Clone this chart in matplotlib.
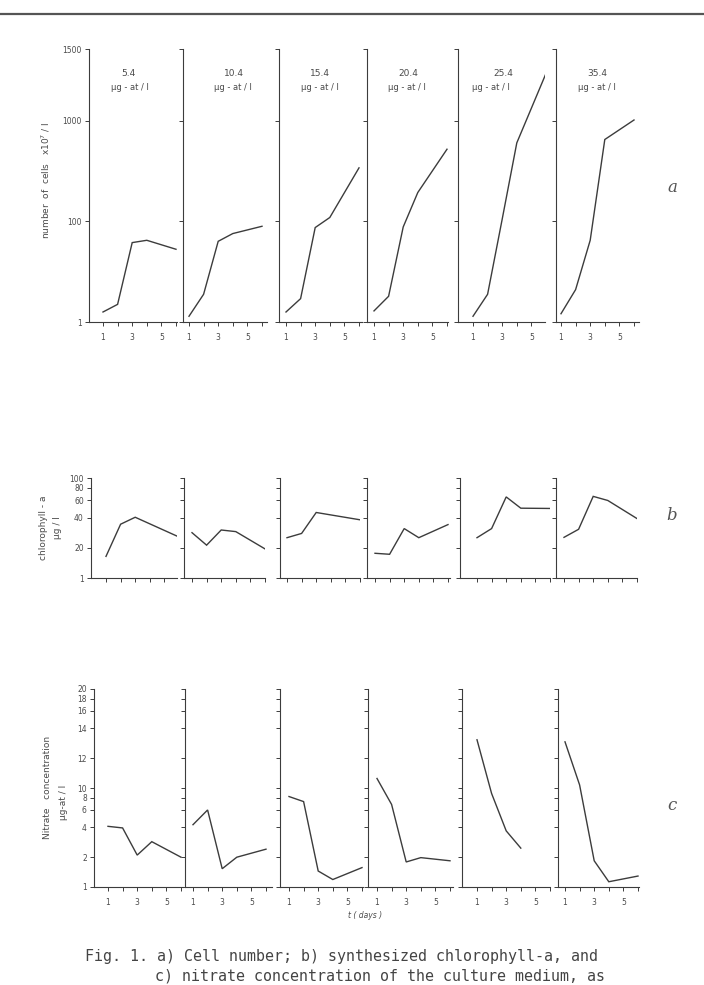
import numpy as np
import matplotlib
matplotlib.use("Agg")
import matplotlib.pyplot as plt
from matplotlib.ticker import FixedLocator, FixedFormatter, NullLocator

W, H = 704, 985

# ---------------- data ----------------
concentrations = ["5.4", "10.4", "15.4", "20.4", "25.4", "35.4"]
unit_label = "μg - at / l"

# a) number of cells x10^7 / l
cell_days = [[1, 2, 3, 4, 6], [1, 2, 3, 4, 6], [1, 2, 3, 4, 6],
             [1, 2, 3, 4, 6], [1, 2, 3, 4, 6], [1, 2, 3, 4, 6]]
cell_vals = [[1.58, 2.24, 37.7, 41.9, 27.8],
             [1.30, 3.55, 40.0, 57.0, 79.5],
             [1.58, 2.91, 75.0, 109.0, 339.0],
             [1.66, 3.24, 77.0, 193.0, 519.0],
             [1.30, 3.55, 105.0, 600.0, 1306.0],
             [1.46, 4.39, 41.9, 648.0, 1003.0]]

# b) chlorophyll-a  ug/l
chl_days = [[1, 2, 3, 6], [1, 2, 3, 4, 6], [1, 2, 3, 6],
            [1, 2, 3, 4, 6], [1, 2, 3, 4, 6], [1, 2, 3, 4, 6]]
chl_vals = [[8.6, 34.5, 40.5, 25.7],
            [28.4, 21.3, 30.2, 29.1, 18.1],
            [25.3, 27.9, 45.2, 38.2],
            [11.7, 10.6, 31.2, 25.3, 34.2],
            [25.3, 31.2, 64.7, 49.9, 49.6],
            [25.5, 30.7, 65.5, 59.6, 39.3]]

# c) nitrate concentration  ug-at/l
nit_days = [[1, 2, 3, 4, 6], [1, 2, 3, 4, 6], [1, 2, 3, 4, 6],
            [1, 2, 3, 4, 6], [1, 2, 3, 4], [1, 2, 3, 4, 6]]
nit_vals = [[4.1, 3.95, 2.1, 2.87, 2.0],
            [4.26, 6.0, 1.53, 2.0, 2.41],
            [8.2, 7.29, 1.45, 1.19, 1.57],
            [10.6, 6.82, 1.79, 1.98, 1.84],
            [13.2, 8.8, 3.69, 2.47],
            [13.06, 10.19, 1.84, 1.13, 1.29]]

# axis tick labels (the original axes are broken / non-uniform)
cell_ticks = [1, 100, 1000, 1500]
chl_ticks = [1, 20, 40, 60, 80, 100]
nit_ticks = [1, 2, 4, 6, 8, 10, 12, 14, 16, 18, 20]
x_ticks = [1, 2, 3, 4, 5, 6]
x_ticklabels = ["1", "", "3", "", "5", ""]

# ---------------- scale definitions (relative spacing of tick marks) ----
cell_scale_pos = [0.0, 1.0, 2.0, 2.71]
chl_scale_pos = list(np.log10([10, 20, 40, 60, 80, 100]))
nit_scale_pos = list(np.log10([1, 2, 4, 6, 8, 10, 20, 40, 60, 80, 100]))


def make_funcs(ticks, pos):
    lt = np.log10(np.asarray(ticks, float))
    p = np.asarray(pos, float)
    s0 = (p[1] - p[0]) / (lt[1] - lt[0])
    s1 = (p[-1] - p[-2]) / (lt[-1] - lt[-2])

    def fwd(v):
        v = np.asarray(v, float)
        lv = np.log10(np.clip(v, 1e-12, None))
        out = np.interp(lv, lt, p)
        out = np.where(lv < lt[0], p[0] + (lv - lt[0]) * s0, out)
        out = np.where(lv > lt[-1], p[-1] + (lv - lt[-1]) * s1, out)
        return out

    def inv(q):
        q = np.asarray(q, float)
        out = np.interp(q, p, lt)
        out = np.where(q < p[0], lt[0] + (q - p[0]) / s0, out)
        out = np.where(q > p[-1], lt[-1] + (q - p[-1]) / s1, out)
        return 10 ** out

    return fwd, inv


# ---------------- layout (pixels) ----------------
rows = [
    dict(days=cell_days, vals=cell_vals, ticks=cell_ticks, pos=cell_scale_pos,
         top=49, bottom=322,
         spine=[89, 183, 279, 367, 458, 556],
         day1=[103, 189, 286, 374, 473, 561],
         right=[177, 267, 362, 448, 545, 639],
         xlabels=True),
    dict(days=chl_days, vals=chl_vals, ticks=chl_ticks, pos=chl_scale_pos,
         top=478, bottom=578,
         spine=[91, 184, 280, 367, 460, 556],
         day1=[106, 192, 287, 375, 477, 564],
         right=[177, 265, 360, 450, 550, 637],
         xlabels=False),
    dict(days=nit_days, vals=nit_vals, ticks=nit_ticks, pos=nit_scale_pos,
         top=689, bottom=887,
         spine=[94, 185, 280, 368, 462, 558],
         day1=[108, 193, 289, 377, 477, 565],
         right=[183, 272, 363, 453, 550, 639],
         xlabels=True),
]
day_px = 14.6
ink = "#3c3c3c"
txt = "#4a4a4a"

fig = plt.figure(figsize=(W / 100, H / 100), dpi=100)

for r in rows:
    fwd, inv = make_funcs(r["ticks"], r["pos"])
    for i in range(6):
        l, rt = r["spine"][i], r["right"][i]
        ax = fig.add_axes([l / W, 1 - r["bottom"] / H, (rt - l) / W,
                           (r["bottom"] - r["top"]) / H])
        ax.set_yscale("function", functions=(fwd, inv))
        ax.plot(r["days"][i], r["vals"][i], color=ink, lw=1.0,
                solid_joinstyle="miter")
        x0 = 1 - (r["day1"][i] - l) / day_px
        x1 = 1 + (rt - r["day1"][i]) / day_px
        ax.set_xlim(x0, x1)
        ax.set_ylim(r["ticks"][0], r["ticks"][-1])
        ax.yaxis.set_major_locator(FixedLocator(r["ticks"]))
        ax.yaxis.set_minor_locator(NullLocator())
        ax.xaxis.set_major_locator(FixedLocator(x_ticks))
        ax.xaxis.set_minor_locator(NullLocator())
        if i == 0:
            ax.yaxis.set_major_formatter(FixedFormatter([str(t) for t in r["ticks"]]))
        else:
            ax.yaxis.set_major_formatter(FixedFormatter([""] * len(r["ticks"])))
        if r["xlabels"]:
            ax.xaxis.set_major_formatter(FixedFormatter(x_ticklabels))
        else:
            ax.xaxis.set_major_formatter(FixedFormatter([""] * 6))
        for s in ["top", "right"]:
            ax.spines[s].set_visible(False)
        for s in ["left", "bottom"]:
            ax.spines[s].set_color(ink)
            ax.spines[s].set_linewidth(0.8)
        ax.tick_params(axis="both", direction="out", length=3.2, width=0.7,
                       color=ink, labelcolor=txt, labelsize=5.5, pad=2)
        ax.tick_params(axis="x", pad=5)
        ax.patch.set_alpha(0)

# panel titles (row a)
title_x = [128, 234, 320, 408, 503, 597]
unit_x = [130, 233, 320, 407, 491, 597]
for i in range(6):
    fig.text(title_x[i] / W, 1 - 73 / H, concentrations[i], ha="center",
             va="center", fontsize=6.5, color=txt)
    fig.text(unit_x[i] / W, 1 - 87 / H, unit_label, ha="center",
             va="center", fontsize=6.0, color=txt)

# y-axis labels
fig.text(46 / W, 1 - 180 / H, "number  of  cells   x10$^{7}$ / l", rotation=90,
         ha="center", va="center", fontsize=6.5, color=txt)
fig.text(43 / W, 1 - 528 / H, "chlorophyll - a", rotation=90,
         ha="center", va="center", fontsize=6.5, color=txt)
fig.text(58 / W, 1 - 528 / H, "μg / l", rotation=90,
         ha="center", va="center", fontsize=6.5, color=txt)
fig.text(48 / W, 1 - 787 / H, "Nitrate   concentration", rotation=90,
         ha="center", va="center", fontsize=6.5, color=txt)
fig.text(63 / W, 1 - 802 / H, "μg-at / l", rotation=90,
         ha="center", va="center", fontsize=6.5, color=txt)

# row letters
for lab, y in [("a", 187), ("b", 516), ("c", 806)]:
    fig.text(672 / W, 1 - y / H, lab, ha="center", va="center", fontsize=12,
             color="#555555", family="DejaVu Serif", style="italic")

# x label
fig.text(365 / W, 1 - 916 / H, "t ( days )", ha="center", va="center",
         fontsize=5.5, color=txt, style="italic")

# top rule
fig.add_artist(plt.Line2D([0, 1], [1 - 14 / H, 1 - 14 / H], color="#555555",
                          lw=1.6, transform=fig.transFigure))

# caption
fig.text(85 / W, 1 - 957 / H,
         "Fig. 1. a) Cell number; b) synthesized chlorophyll-a, and",
         ha="left", va="center", fontsize=10.8, color="#444444",
         family="DejaVu Sans Mono")
fig.text(155 / W, 1 - 976 / H,
         "c) nitrate concentration of the culture medium, as",
         ha="left", va="center", fontsize=10.8, color="#444444",
         family="DejaVu Sans Mono")

fig.savefig("out.png", dpi=100)
